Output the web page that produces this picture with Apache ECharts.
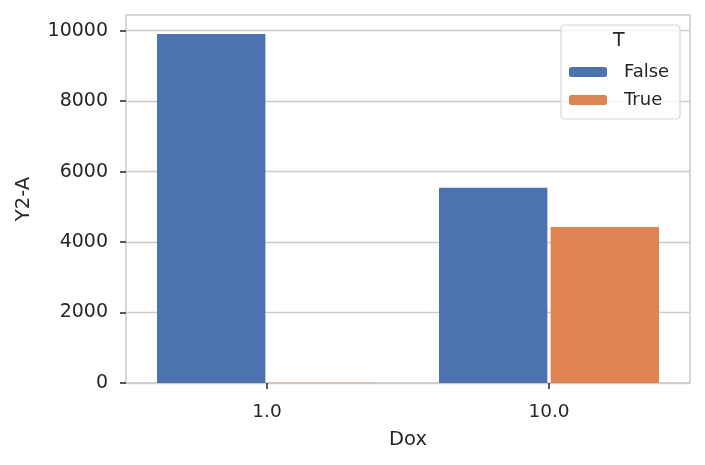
<!DOCTYPE html>
<html>
<head>
<meta charset="utf-8">
<script src="https://cdn.jsdelivr.net/npm/echarts@6/dist/echarts.min.js"></script>
<style>
  html, body { margin: 0; padding: 0; background: #fff; }
  #chart { width: 705px; height: 465px; }
</style>
</head>
<body>
<div id="chart"></div>
<script>
// values
const doses = ['1.0', '10.0']
const falseVals = [9910, 5540]
const trueVals = [8, 4425]
const yTicks = [0, 2000, 4000, 6000, 8000, 10000]

const textColor = '#262626'
const gridColor = '#cccccc'

const chart = echarts.init(document.getElementById('chart'))
chart.setOption({
  animation: false,
  textStyle: { fontFamily: 'DejaVu Sans' },
  grid: { left: 126, right: 15, top: 15, bottom: 82, show: true, borderColor: gridColor, borderWidth: 1.5 },
  legend: {
    orient: 'vertical',
    left: 561,
    top: 25,
    padding: [36, 6, 8, 8],
    itemWidth: 38,
    itemHeight: 10,
    itemGap: 6,
    itemStyle: { borderWidth: 0 },
    borderColor: '#d6d6d6',
    borderWidth: 1.2,
    borderRadius: 4,
    backgroundColor: 'rgba(255,255,255,0.8)',
    textStyle: { color: textColor, fontSize: 18, lineHeight: 22, padding: [0, 0, 0, 12], width: 50 },
    data: ['False', 'True']
  },
  graphic: [{
    type: 'text', left: 613, top: 32, z: 100,
    style: { text: 'T', fill: textColor, fontSize: 19, fontFamily: 'DejaVu Sans' }
  }],
  xAxis: {
    type: 'category',
    data: doses,
    name: 'Dox',
    nameLocation: 'middle',
    nameGap: 47,
    nameTextStyle: { color: textColor, fontSize: 19.5 },
    axisLine: { show: false },
    axisTick: { show: true, alignWithLabel: true, length: 6, lineStyle: { color: textColor, width: 1.5 } },
    axisLabel: { color: textColor, fontSize: 18.5, margin: 20 },
    splitLine: { show: false }
  },
  yAxis: {
    type: 'value',
    min: 0,
    max: 10446,
    interval: 2000,
    name: 'Y2-A',
    nameLocation: 'middle',
    nameGap: 92,
    nameTextStyle: { color: textColor, fontSize: 19.5 },
    axisLine: { show: false },
    axisTick: { show: true, length: 6, customValues: yTicks, lineStyle: { color: textColor, width: 1.5 } },
    axisLabel: { color: textColor, fontSize: 19, margin: 18, customValues: yTicks, formatter: v => String(v) },
    splitLine: { show: true, lineStyle: { color: gridColor, width: 1.3 } }
  },
  series: [
    {
      name: 'False',
      type: 'bar',
      data: falseVals,
      barCategoryGap: '22%',
      barGap: '3%',
      itemStyle: { color: '#4c72b0' }
    },
    {
      name: 'True',
      type: 'bar',
      data: trueVals,
      itemStyle: { color: '#dd8452' }
    }
  ]
})
</script>
</body>
</html>
